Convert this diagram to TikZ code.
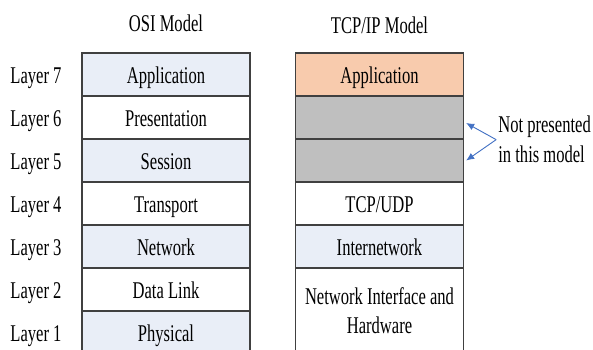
\documentclass[tikz,border=0pt]{standalone}
\usepackage{fontspec}
\setmainfont[FakeStretch=0.69]{Liberation Serif}
\usepackage{tikz}
\usetikzlibrary{arrows.meta, positioning}

\definecolor{osiblue}{RGB}{233,238,247}
\definecolor{appor}{RGB}{248,203,173}
\definecolor{absent}{RGB}{191,191,191}
\definecolor{noteblue}{RGB}{68,114,196}

\begin{document}
\begin{tikzpicture}[x=1pt, y=1pt, node distance=43pt, on grid, font=\fontsize{24}{30}\selectfont]
\useasboundingbox (0,0) rectangle (593,349);

	\tikzset{layer/.style={draw=black!75, line width=1.3pt, minimum width=168pt, minimum height=43pt, inner sep=0pt, text height=17pt, text depth=0pt}}
	\tikzset{lname/.style={inner sep=0pt, text height=17pt, text depth=0pt}}
	\tikzset{notetext/.style={inner sep=0pt, align=left}}
	\tikzset{notearrow/.style={-{Latex[length=8pt,width=7pt]}, draw=noteblue, fill=noteblue, line width=0.9pt}}

\node[layer, fill=osiblue] (osi_7) at (166,274.5) {Application};
\node[layer]               (osi_6) [below=of osi_7] {Presentation};
\node[layer, fill=osiblue] (osi_5) [below=of osi_6] {Session};
\node[layer]               (osi_4) [below=of osi_5] {Transport};
\node[layer, fill=osiblue] (osi_3) [below=of osi_4] {Network};
\node[layer]               (osi_2) [below=of osi_3] {Data Link};
\node[layer, fill=osiblue] (osi_1) [below=of osi_2] {Physical};

\node[layer, fill=appor]   (tcp_7) [right=213.5pt of osi_7] {Application};
\node[layer, fill=absent]  (tcp_6) [below=of tcp_7] {};
\node[layer, fill=absent]  (tcp_5) [below=of tcp_6] {};
\node[layer]               (tcp_4) [below=of tcp_5] {TCP/UDP};
\node[layer, fill=osiblue] (tcp_3) [below=of tcp_4] {Internetwork};
\node[layer, minimum height=86pt, align=center, text height=, text depth=, font=\fontsize{24}{29}\selectfont]
                           (tcp_hw) [below=64.5pt of tcp_3] {Network Interface and\\Hardware};

\node[lname] (title_osi) [above=52pt of osi_7] {OSI Model};
\node[lname] (title_tcp) [above=50pt of tcp_7] {TCP/IP Model};

\node[lname] (l_7) [left=130pt of osi_7] {Layer 7};
\node[lname] (l_6) [left=130pt of osi_6] {Layer 6};
\node[lname] (l_5) [left=130pt of osi_5] {Layer 5};
\node[lname] (l_4) [left=130pt of osi_4] {Layer 4};
\node[lname] (l_3) [left=130pt of osi_3] {Layer 3};
\node[lname] (l_2) [left=130pt of osi_2] {Layer 2};
\node[lname] (l_1) [left=130pt of osi_1] {Layer 1};

\node[notetext] (note) [right=34pt of tcp_6.south east, anchor=west] {Not presented\\in this model};

\draw[notearrow] ([xshift=-2pt]note.west) -- ([shift={(2pt,-5.5pt)}]tcp_6.east);
\draw[notearrow] ([xshift=-2pt]note.west) -- ([xshift=2pt]tcp_5.east);

\end{tikzpicture}
\end{document}
